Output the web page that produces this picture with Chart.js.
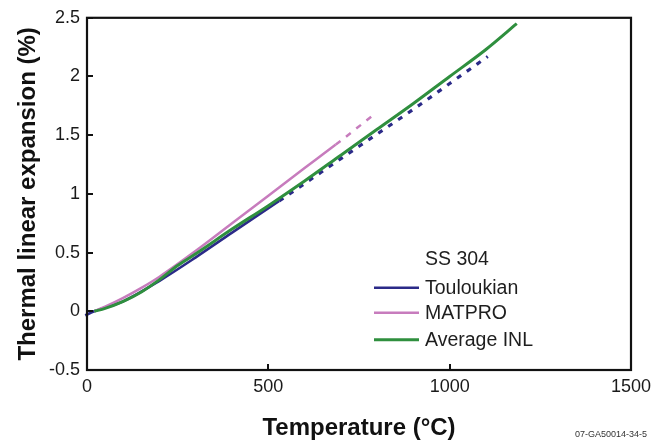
<!DOCTYPE html>
<html>
<head>
<meta charset="utf-8">
<script src="https://cdn.jsdelivr.net/npm/chart.js@4.4.0/dist/chart.umd.min.js"></script>
<style>
html,body{margin:0;padding:0;background:#fff;}
#wrap{width:661px;height:443px;position:relative;}
</style>
</head>
<body>
<div id="wrap"><canvas id="c"></canvas></div>
<script>
// ---- data ----
const legendTitle = 'SS 304';
const seriesNames = ['Touloukian', 'MATPRO', 'Average INL'];
const seriesColors = ['#2b2a88', '#c77cbd', '#2f8f3e'];

// Touloukian (solid up to 530 °C, dashed beyond)
const touloukianT = [-5, 20, 100, 200, 300, 400, 530, 601, 700, 800, 909, 1000, 1105];
const touloukianV = [-0.035, 0, 0.085, 0.26, 0.46, 0.67, 0.94, 1.09, 1.30, 1.51, 1.74, 1.94, 2.17];
const touloukianSolidEnd = 530;

// MATPRO (solid up to 686 °C, dashed beyond)
const matproT = [20, 50, 100, 150, 200, 300, 400, 500, 600, 686, 791];
const matproV = [0, 0.04, 0.115, 0.20, 0.295, 0.515, 0.75, 0.985, 1.22, 1.42, 1.675];
const matproSolidEnd = 686;

// Average INL (solid)
const inlT = [20, 50, 100, 150, 200, 250, 300, 400, 500, 600, 700, 800, 900, 1000, 1100, 1185];
const inlV = [0, 0.025, 0.085, 0.165, 0.27, 0.39, 0.49, 0.70, 0.90, 1.11, 1.33, 1.55, 1.77, 2.00, 2.23, 2.45];

const xTickValues = [0, 500, 1000, 1500];
const xTickLabels = ['0', '500', '1000', '1500'];
const yTickValues = [-0.5, 0, 0.5, 1, 1.5, 2, 2.5];
const yTickLabels = ['-0.5', '0', '0.5', '1', '1.5', '2', '2.5'];

const xTitle = 'Temperature (°C)';
const yTitle = 'Thermal linear expansion (%)';
const figureId = '07-GA50014-34-5';

// ---- build chart ----
const FONT = "'Liberation Sans', Arial, Helvetica, sans-serif";
const toPts = (xs, ys) => xs.map((x, i) => ({x: x, y: ys[i]}));
const dashAfter = (limit, pattern) => ctx => (ctx.p0.parsed.x >= limit - 1e-9 ? pattern : undefined);

const datasets = [
  {
    label: seriesNames[2], data: toPts(inlT, inlV),
    borderColor: seriesColors[2], borderWidth: 3, order: 0
  },
  {
    label: seriesNames[1], data: toPts(matproT, matproV),
    borderColor: seriesColors[1], borderWidth: 2.5, order: 1,
    segment: { borderDash: dashAfter(matproSolidEnd, [6, 7]) }
  },
  {
    label: seriesNames[0], data: toPts(touloukianT, touloukianV),
    borderColor: seriesColors[0], borderWidth: 2.6, order: 2, clip: false,
    segment: { borderDash: dashAfter(touloukianSolidEnd, [5, 7]), borderWidth: ctx => (ctx.p0.parsed.x >= touloukianSolidEnd - 1e-9 ? 3.2 : undefined) }
  }
].map(d => Object.assign({
  pointRadius: 0, pointHoverRadius: 0, fill: false, tension: 0.4,
  cubicInterpolationMode: 'monotone', borderCapStyle: 'butt'
}, d));

const framePlugin = {
  id: 'frameAndExtras',
  afterDatasetsDraw(chart) {
    const {ctx, chartArea: a, scales} = chart;
    ctx.save();
    // inward tick marks
    ctx.strokeStyle = '#111';
    ctx.lineWidth = 2;
    ctx.beginPath();
    yTickValues.forEach(v => {
      const y = Math.round(scales.y.getPixelForValue(v));
      ctx.moveTo(a.left, y); ctx.lineTo(a.left + 6, y);
    });
    xTickValues.forEach(v => {
      const x = Math.round(scales.x.getPixelForValue(v));
      ctx.moveTo(x, a.bottom); ctx.lineTo(x, a.bottom - 6);
    });
    ctx.stroke();
    // frame
    ctx.lineWidth = 2.2;
    ctx.strokeStyle = '#111';
    ctx.strokeRect(a.left, a.top, a.right - a.left, a.bottom - a.top);

    // legend
    const lx0 = a.left + 287, lx1 = a.left + 332, tx = a.left + 338;
    const rows = [a.top + 270, a.top + 295, a.top + 322];
    ctx.fillStyle = '#1e1e1e';
    ctx.font = '19.5px ' + FONT;
    ctx.textBaseline = 'middle';
    ctx.textAlign = 'left';
    ctx.fillText(legendTitle, tx, a.top + 242);
    const widths = [2.6, 2.6, 3];
    [0, 1, 2].forEach((si, r) => {
      ctx.strokeStyle = seriesColors[si];
      ctx.lineWidth = widths[si];
      ctx.beginPath();
      ctx.moveTo(lx0, rows[r]); ctx.lineTo(lx1, rows[r]);
      ctx.stroke();
      ctx.fillText(seriesNames[si], tx, rows[r] + 1);
    });

    // figure id
    ctx.font = '9px ' + FONT;
    ctx.fillStyle = '#333';
    ctx.textAlign = 'right';
    ctx.textBaseline = 'middle';
    ctx.fillText(figureId, chart.width - 14, chart.height - 8);
    ctx.restore();
  }
};

new Chart(document.getElementById('c'), {
  type: 'line',
  data: { datasets },
  options: {
    responsive: true,
    maintainAspectRatio: false,
    animation: false,
    devicePixelRatio: 1,
    layout: { padding: { left: 0, top: 15, right: 30, bottom: 0 } },
    plugins: { legend: { display: false }, tooltip: { enabled: false } },
    scales: {
      x: {
        type: 'linear', min: 0, max: 1500,
        afterFit: s => { s.height = 73; },
        afterBuildTicks: s => { s.ticks = xTickValues.map(v => ({value: v})); },
        ticks: {
          padding: 6, color: '#1a1a1a', font: { family: FONT, size: 18 },
          maxRotation: 0,
          callback: v => { const i = xTickValues.indexOf(v); return i >= 0 ? xTickLabels[i] : ''; }
        },
        grid: { display: false, drawTicks: false },
        border: { display: false },
        title: {
          display: true, text: xTitle, color: '#111',
          font: { family: FONT, size: 24, weight: 'bold' },
          padding: { top: 0, bottom: 0 }
        }
      },
      y: {
        type: 'linear', min: -0.5, max: 2.5,
        afterFit: s => { s.width = 87; },
        afterBuildTicks: s => { s.ticks = yTickValues.map(v => ({value: v})); },
        ticks: {
          padding: 7, color: '#1a1a1a', font: { family: FONT, size: 18 },
          callback: v => { const i = yTickValues.findIndex(t => Math.abs(t - v) < 1e-9); return i >= 0 ? yTickLabels[i] : ''; }
        },
        grid: { display: false, drawTicks: false },
        border: { display: false },
        title: {
          display: true, text: yTitle, color: '#111',
          font: { family: FONT, size: 24, weight: 'bold' },
          padding: { top: 14, bottom: 0 }
        }
      }
    }
  },
  plugins: [framePlugin]
});
</script>
</body>
</html>
